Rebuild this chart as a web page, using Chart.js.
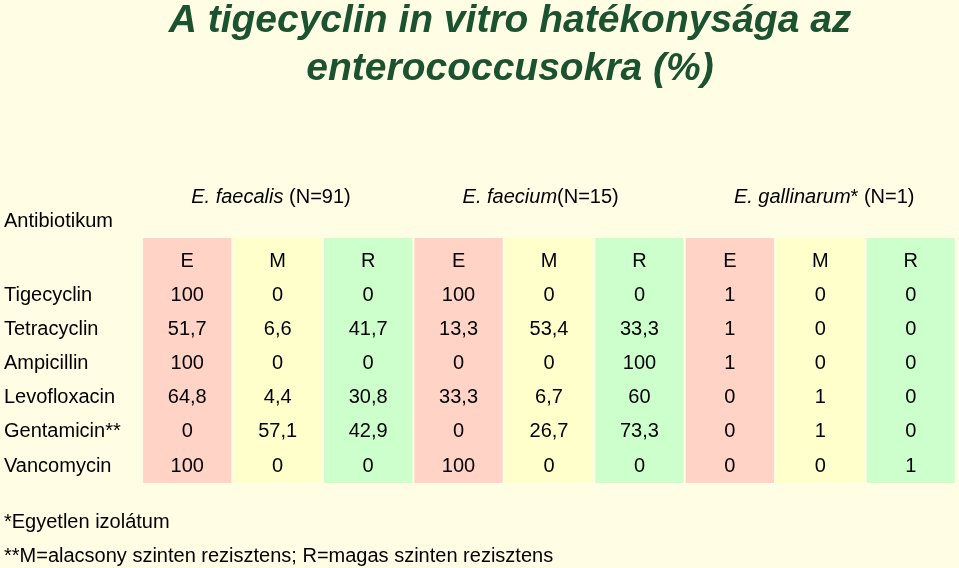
<!DOCTYPE html>
<html>
<head>
<meta charset="utf-8">
<script src="https://cdn.jsdelivr.net/npm/chart.js@4"></script>
<style>
  body { margin: 0; background: #fffde3; }
  #wrap { width: 959px; height: 568px; }
</style>
</head>
<body>
<div id="wrap"><canvas id="tbl"></canvas></div>
<script>
// ---- data ----
const columns = ['E', 'M', 'R', 'E', 'M', 'R', 'E', 'M', 'R'];
const groups = [
  { italic: 'E. faecalis', rest: ' (N=91)', col: 0 },
  { italic: 'E. faecium', rest: '(N=15)', col: 3 },
  { italic: 'E. gallinarum', rest: '* (N=1)', col: 6 }
];
const antibiotics = ['Tigecyclin', 'Tetracyclin', 'Ampicillin', 'Levofloxacin', 'Gentamicin**', 'Vancomycin'];
const tigecyclin   = ['100', '0', '0', '100', '0', '0', '1', '0', '0'];
const tetracyclin  = ['51,7', '6,6', '41,7', '13,3', '53,4', '33,3', '1', '0', '0'];
const ampicillin   = ['100', '0', '0', '0', '0', '100', '1', '0', '0'];
const levofloxacin = ['64,8', '4,4', '30,8', '33,3', '6,7', '60', '0', '1', '0'];
const gentamicin   = ['0', '57,1', '42,9', '0', '26,7', '73,3', '0', '1', '0'];
const vancomycin   = ['100', '0', '0', '100', '0', '0', '0', '0', '1'];
const rows = [tigecyclin, tetracyclin, ampicillin, levofloxacin, gentamicin, vancomycin];
const bandColors = { E: '#ffd3c6', M: '#ffffcc', R: '#ccffcc' };

const FONT = '"Liberation Sans", Arial, sans-serif';

// draws the text of the table using the chart scales
const tableText = {
  id: 'tableText',
  afterDatasetsDraw(chart) {
    const ctx = chart.ctx;
    const xs = chart.scales.x, ys = chart.scales.y;
    ctx.save();
    ctx.textBaseline = 'middle';

    // title
    ctx.fillStyle = '#1b5230';
    ctx.textAlign = 'center';
    ctx.font = 'italic bold 39px ' + FONT;
    ctx.fillText('A tigecyclin in vitro hatékonysága az', 510, 21);
    ctx.fillText('enterococcusokra (%)', 510, 69);

    ctx.fillStyle = '#000';
    ctx.font = '20px ' + FONT;
    ctx.textAlign = 'left';
    ctx.fillText('Antibiotikum', 4, 221);

    // group headers
    groups.forEach(g => {
      let x = xs.getPixelForValue(g.col) + 4;
      ctx.font = 'italic 20px ' + FONT;
      ctx.fillText(g.italic, x, 197);
      x += ctx.measureText(g.italic).width;
      ctx.font = '20px ' + FONT;
      ctx.fillText(g.rest, x, 197);
    });

    // column header row
    ctx.textAlign = 'center';
    columns.forEach((c, i) => ctx.fillText(c, xs.getPixelForValue(i), ys.getPixelForValue(0)));

    // body
    rows.forEach((r, k) => {
      const y = ys.getPixelForValue(k + 1);
      ctx.textAlign = 'left';
      ctx.fillText(antibiotics[k], 4, y);
      ctx.textAlign = 'center';
      r.forEach((v, i) => ctx.fillText(v, xs.getPixelForValue(i), y));
    });

    // footnotes
    ctx.textAlign = 'left';
    ctx.fillText('*Egyetlen izolátum', 4, 522);
    ctx.fillText('**M=alacsony szinten rezisztens; R=magas szinten rezisztens', 4, 556);
    ctx.restore();
  }
};

new Chart(document.getElementById('tbl'), {
  type: 'bar',
  data: {
    labels: columns.map((c, i) => c + i),
    datasets: [{
      data: columns.map(() => [-0.7, 6.5]),
      backgroundColor: columns.map(c => bandColors[c]),
      borderWidth: 0,
      barPercentage: 1,
      categoryPercentage: 0.975
    }]
  },
  options: {
    responsive: true,
    maintainAspectRatio: false,
    animation: false,
    layout: { padding: { left: 142, right: 3, top: 238, bottom: 85 } },
    plugins: { legend: { display: false }, tooltip: { enabled: false } },
    scales: {
      x: { display: false, offset: true },
      y: { display: false, reverse: true, min: -0.7, max: 6.5 }
    }
  },
  plugins: [tableText]
});
</script>
</body>
</html>
